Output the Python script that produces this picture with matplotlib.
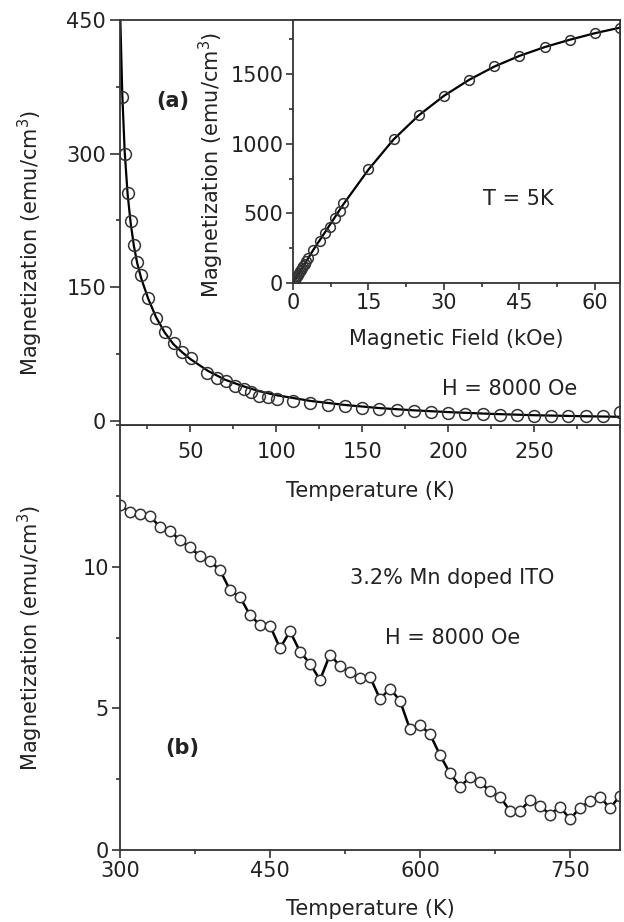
import matplotlib
matplotlib.use('Agg')
import matplotlib.pyplot as plt
from matplotlib.ticker import MultipleLocator

plt.rcParams['font.family'] = ['DejaVu Sans']
plt.rcParams['mathtext.default'] = 'regular'

# (a) M(T) at H = 8000 Oe, низкие температуры
temp_a = [10.3, 11.7, 13.4, 15.2, 17.1, 19.0, 21.3, 25.4, 30.0, 35.1, 40.3, 44.8,
          50.4, 59.7, 65.5, 70.9, 75.7, 81.0, 85.4, 90.1, 95.1, 100.3, 109.4, 119.7,
          130, 140, 150, 160, 170, 180, 190, 200, 210, 220, 230, 240, 250, 260,
          270, 280, 290, 300]
mag_a = [364, 300, 256, 224, 197.5, 178, 163, 138, 115, 99, 87, 77,
         70, 53.5, 48, 44, 39, 35.5, 32, 28, 27, 24.7, 21.7, 19.8,
         18, 16, 14.2, 13, 11.6, 10.5, 9.4, 8.2, 7.9, 7.5, 6.7, 6, 5.6, 5.3,
         5.2, 5.0, 4.8, 10]
# fit curve
fit_t_a = [9.2, 10.3, 11.7, 13.4, 15.2, 17.1, 19, 21.3, 25.4, 30, 35, 40, 45, 50,
           60, 70, 80, 90, 100, 120, 140, 160, 180, 200, 225, 250, 275, 300]
fit_m_a = [450, 368, 303, 255, 222, 196, 177, 160, 137, 116, 99, 86, 77, 69,
           56, 46, 39, 33, 28.5, 22, 17.5, 14, 11.5, 9.5, 7.5, 6, 5, 4.2]

# inset: M(H) at T = 5K
field = [0.2, 0.4, 0.6, 0.8, 1.0, 1.2, 1.4, 1.6, 1.8, 2.0, 2.3, 2.6, 3.0, 4.0,
         5.4, 6.4, 7.4, 8.3, 9.3, 10, 15, 20, 25, 30, 35, 40, 45, 50, 55, 60, 65]
mag_h = [12, 24, 36, 48, 60, 72, 84, 96, 108, 120, 138, 156, 178, 237,
         302, 357, 405, 465, 518, 578, 820, 1034, 1204, 1345, 1460, 1556, 1633,
         1695, 1748, 1796, 1832]
fit_h = [0, 2, 4, 6, 8, 10, 15, 20, 25, 30, 35, 40, 45, 50, 55, 60, 65]
fit_m_h = [0, 118, 236, 345, 455, 565, 815, 1032, 1205, 1345, 1460, 1555, 1632,
           1695, 1748, 1795, 1835]

# (b) M(T) high temperature
temp_b = list(range(300, 801, 10))
mag_b = [12.17, 11.93, 11.87, 11.78, 11.4, 11.27, 10.93, 10.68, 10.37, 10.19,
         9.88, 9.17, 8.93, 8.29, 7.94, 7.92, 7.12, 7.72, 7.0, 6.58,
         6.0, 6.9, 6.49, 6.27, 6.06, 6.11, 5.33, 5.7, 5.27, 4.26,
         4.41, 4.09, 3.35, 2.71, 2.24, 2.56, 2.39, 2.08, 1.88, 1.38,
         1.38, 1.76, 1.56, 1.25, 1.53, 1.09, 1.49, 1.73, 1.88, 1.47,
         1.92]

tc = '#222222'
fs = 15
W, H = 624, 922
fig = plt.figure(figsize=(W / 100, H / 100), dpi=100)


def px_axes(l, t, r, b):
    return fig.add_axes([l / W, 1 - b / H, (r - l) / W, (b - t) / H])


def style(ax):
    for s in ax.spines.values():
        s.set_color('#333333')
        s.set_linewidth(1.3)
    ax.tick_params(which='both', direction='out', colors='#333333', labelcolor=tc,
                   labelsize=fs, width=1.2, pad=2)
    ax.tick_params(which='major', length=5)
    ax.tick_params(which='minor', length=3)


ax_b = px_axes(120, 425, 620, 850)
ax_a = px_axes(120, 20, 620, 425)
ax_in = px_axes(293, 20, 620, 283)
ax_b.set_zorder(1)
ax_a.set_zorder(2)
ax_in.set_zorder(3)

# --- (a)
ax_a.plot(fit_t_a, fit_m_a, color='black', lw=1.6, zorder=2)
ax_a.plot(temp_a, mag_a, 'o', mfc='none', mec='#333333', ms=8.5, mew=1.1, zorder=3)
ax_a.set_xlim(9, 300)
ax_a.set_ylim(-5, 450)
ax_a.xaxis.set_major_locator(MultipleLocator(50))
ax_a.xaxis.set_minor_locator(MultipleLocator(25))
ax_a.yaxis.set_major_locator(MultipleLocator(150))
ax_a.yaxis.set_minor_locator(MultipleLocator(75))
style(ax_a)
ax_a.tick_params(axis='y', which='major', length=7, pad=3)
ax_a.tick_params(axis='x', pad=7)
ax_a.set_xticks([50, 100, 150, 200, 250])
ax_a.set_yticks([0, 150, 300, 450])
ax_a.set_xlabel('Temperature (K)', fontsize=fs, color=tc, labelpad=14)
ax_a.set_ylabel('Magnetization (emu/cm$^3$)', fontsize=fs, color=tc)
ax_a.yaxis.set_label_coords(-0.15, 0.45)
ax_a.text(0.106, 0.80, '(a)', transform=ax_a.transAxes, fontsize=15,
          fontweight='bold', color=tc, ha='center', va='center')
ax_a.text(0.78, 0.09, 'H = 8000 Oe', transform=ax_a.transAxes, fontsize=fs,
          color=tc, ha='center', va='center')

# --- inset
ax_in.plot(fit_h, fit_m_h, color='black', lw=1.6, zorder=2)
ax_in.plot(field, mag_h, 'o', mfc='none', mec='#333333', ms=7, mew=1.1, zorder=3)
ax_in.set_xlim(0, 65)
ax_in.set_ylim(0, 1890)
ax_in.xaxis.set_major_locator(MultipleLocator(15))
ax_in.xaxis.set_minor_locator(MultipleLocator(7.5))
ax_in.yaxis.set_major_locator(MultipleLocator(500))
ax_in.yaxis.set_minor_locator(MultipleLocator(250))
style(ax_in)
ax_in.set_xlabel('Magnetic Field (kOe)', fontsize=fs, color=tc, labelpad=12)
ax_in.set_ylabel('Magnetization (emu/cm$^3$)', fontsize=fs, color=tc)
ax_in.yaxis.set_label_coords(-0.205, 0.45)
ax_in.text(0.69, 0.32, 'T = 5K', transform=ax_in.transAxes, fontsize=fs,
           color=tc, ha='center', va='center')

# --- (b)
ax_b.plot(temp_b, mag_b, '-o', color='black', lw=1.8, mfc='white', mec='#333333',
          ms=7.5, mew=1.1)
ax_b.set_xlim(300, 800)
ax_b.set_ylim(0, 15)
ax_b.xaxis.set_major_locator(MultipleLocator(150))
ax_b.xaxis.set_minor_locator(MultipleLocator(75))
ax_b.yaxis.set_minor_locator(MultipleLocator(2.5))
style(ax_b)
ax_b.tick_params(which='major', length=6)
ax_b.set_yticks([0, 5, 10])
ax_b.set_xlabel('Temperature (K)', fontsize=fs, color=tc, labelpad=13)
ax_b.set_ylabel('Magnetization (emu/cm$^3$)', fontsize=fs, color=tc)
ax_b.yaxis.set_label_coords(-0.15, 0.5)
ax_b.text(0.665, 0.64, '3.2% Mn doped ITO', transform=ax_b.transAxes, fontsize=fs,
          color=tc, ha='center', va='center')
ax_b.text(0.665, 0.50, 'H = 8000 Oe', transform=ax_b.transAxes, fontsize=fs,
          color=tc, ha='center', va='center')
ax_b.text(0.125, 0.24, '(b)', transform=ax_b.transAxes, fontsize=15,
          fontweight='bold', color=tc, ha='center', va='center')

fig.savefig('out.png', dpi=100)
